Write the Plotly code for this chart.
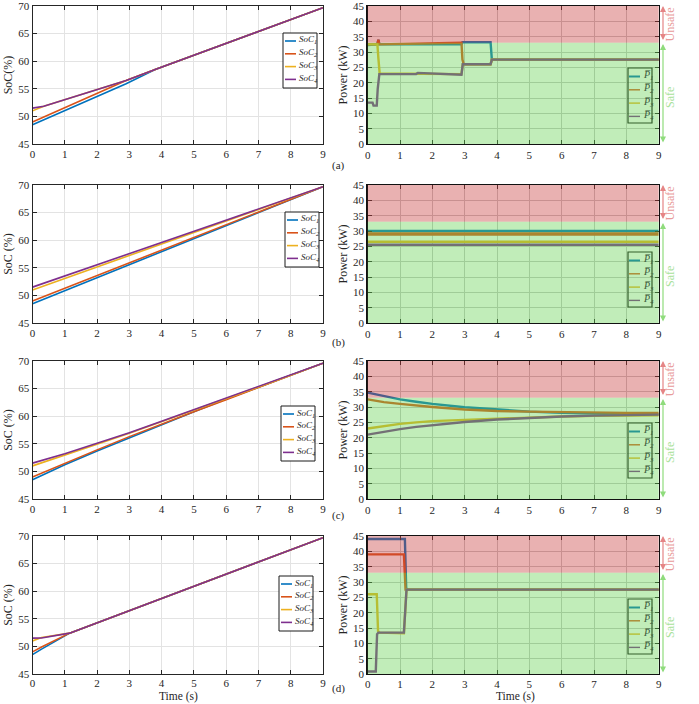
import plotly.graph_objects as go

W, H = 699, 704
FONT = "Liberation Serif, Times New Roman, Times, DejaVu Serif, serif"

# ---------------- data ----------------
time_ticks = [0, 1, 2, 3, 4, 5, 6, 7, 8, 9]
soc_ticks = [45, 50, 55, 60, 65, 70]
power_ticks = [0, 5, 10, 15, 20, 25, 30, 35, 40, 45]
panel_labels = ["(a)", "(b)", "(c)", "(d)"]
soc_names = ["<i>SoC<sub>1</sub></i>", "<i>SoC<sub>2</sub></i>", "<i>SoC<sub>3</sub></i>", "<i>SoC<sub>4</sub></i>"]
p_names = ["<i>P\u0305<sub>1</sub></i>", "<i>P\u0305<sub>2</sub></i>", "<i>P\u0305<sub>3</sub></i>", "<i>P\u0305<sub>4</sub></i>"]
unsafe_limit = 33
power_max = 45

# (a) SoC
soc_a_t = [0, 0.35, 2.9, 3.8, 9]
soc1_a = [48.5, 49.4, 55.9, 58.5, 69.7]
soc2_a = [49.0, 49.9, 56.5, 58.5, 69.7]
soc3_a = [51.0, 51.85, 56.5, 58.5, 69.7]
soc4_a = [51.5, 51.85, 56.5, 58.5, 69.7]
# (a) power
p1_a_t = [0, 0.3, 0.33, 0.36, 2.9, 2.93, 3.8, 3.84, 9]
p1_a = [32.3, 32.5, 34.0, 32.5, 32.5, 33.2, 33.2, 27.5, 27.5]
p2_a_t = [0, 0.3, 0.33, 0.36, 2.9, 2.93, 2.97, 3.8, 3.84, 9]
p2_a = [32.5, 32.5, 34.0, 32.5, 33.0, 27.5, 26.0, 26.0, 27.5, 27.5]
p3_a_t = [0, 0.3, 0.33, 0.37, 2.9, 2.94, 3.8, 3.84, 9]
p3_a = [32.5, 32.5, 28.0, 23.0, 22.8, 26.0, 26.0, 27.5, 27.5]
p4_a_t = [0, 0.15, 0.18, 0.28, 0.31, 0.36, 1.5, 1.55, 2.9, 2.94, 3.8, 3.84, 9]
p4_a = [13.5, 13.5, 12.5, 12.5, 18.0, 22.8, 22.8, 23.2, 22.6, 26.0, 26.0, 27.5, 27.5]

# (b) SoC
soc_b_t = [0, 9]
soc1_b = [48.5, 69.7]
soc2_b = [49.0, 69.7]
soc3_b = [51.0, 69.7]
soc4_b = [51.5, 69.7]
# (b) power
p_b_t = [0, 9]
p1_b = [30.0, 30.0]
p2_b = [29.0, 29.0]
p3_b = [26.5, 26.5]
p4_b = [25.5, 25.5]

# (c) SoC
soc_c_t = [0, 1, 2, 3, 4, 5, 6, 7, 8, 9]
soc1_c = [48.5, 51.2, 53.7, 56.1, 58.5, 60.8, 63.1, 65.3, 67.5, 69.6]
soc2_c = [49.0, 51.5, 53.9, 56.3, 58.6, 60.8, 63.0, 65.2, 67.4, 69.6]
soc3_c = [51.0, 52.9, 54.9, 56.9, 59.0, 61.0, 63.1, 65.3, 67.4, 69.6]
soc4_c = [51.5, 53.2, 55.1, 57.0, 59.1, 61.2, 63.3, 65.4, 67.5, 69.6]
# (c) power
p_c_t = [0, 0.5, 1, 1.5, 2, 3, 4, 5, 6, 7, 8, 9]
p1_c = [34.7, 33.5, 32.5, 31.7, 31.0, 29.9, 29.1, 28.5, 28.1, 27.8, 27.6, 27.5]
p2_c = [32.5, 31.6, 31.0, 30.4, 30.0, 29.2, 28.7, 28.5, 28.3, 28.2, 28.1, 28.1]
p3_c = [23.0, 23.8, 24.5, 25.0, 25.4, 25.8, 26.2, 26.6, 26.9, 27.1, 27.2, 27.3]
p4_c = [21.0, 22.0, 22.8, 23.5, 24.1, 25.1, 25.9, 26.5, 26.9, 27.2, 27.4, 27.5]

# (d) SoC
soc_d_t = [0, 0.28, 1.15, 9]
soc1_d = [48.5, 49.5, 52.4, 69.7]
soc2_d = [49.0, 49.9, 52.4, 69.7]
soc3_d = [51.0, 51.6, 52.4, 69.7]
soc4_d = [51.5, 51.52, 52.4, 69.7]
# (d) power
p1_d_t = [0, 1.15, 1.19, 1.24, 9]
p1_d = [44.0, 44.0, 28.0, 27.5, 27.5]
p2_d_t = [0, 1.12, 1.17, 9]
p2_d = [39.0, 39.0, 27.5, 27.5]
p3_d_t = [0, 0.28, 0.32, 0.36, 1.12, 1.16, 1.2, 9]
p3_d = [26.0, 26.0, 14.0, 13.5, 13.3, 22.0, 27.5, 27.5]
p4_d_t = [0, 0.25, 0.29, 0.33, 1.12, 1.16, 1.2, 9]
p4_d = [0.8, 0.8, 13.0, 13.5, 13.5, 22.0, 27.5, 27.5]

soc_sets = [
    ([soc_a_t] * 4, [soc1_a, soc2_a, soc3_a, soc4_a]),
    ([soc_b_t] * 4, [soc1_b, soc2_b, soc3_b, soc4_b]),
    ([soc_c_t] * 4, [soc1_c, soc2_c, soc3_c, soc4_c]),
    ([soc_d_t] * 4, [soc1_d, soc2_d, soc3_d, soc4_d]),
]
p_sets = [
    ([p1_a_t, p2_a_t, p3_a_t, p4_a_t], [p1_a, p2_a, p3_a, p4_a]),
    ([p_b_t] * 4, [p1_b, p2_b, p3_b, p4_b]),
    ([p_c_t] * 4, [p1_c, p2_c, p3_c, p4_c]),
    ([p1_d_t, p2_d_t, p3_d_t, p4_d_t], [p1_d, p2_d, p3_d, p4_d]),
]

# ---------------- styling ----------------
colors = ["#0072BD", "#D95319", "#EDB120", "#7E2F8E"]
RED_PATCH = "rgba(200,60,60,0.4)"
GREEN_PATCH = "rgba(100,210,80,0.4)"
TXT = "#262626"


def PX(x):
    return x / W


def PY(y):
    return 1 - y / H


LEFT_X = (32.5, 323.0)
RIGHT_X = (367.7, 658.7)
ROWS_Y = [(6, 144), (185, 323), (361, 499), (536, 674)]
LEFT_LEG = [(283, 33), (285, 212), (281, 406), (279, 576)]
RIGHT_LEG = [(628, 68), (628, 252), (628, 423), (628, 599)]
LABEL_Y = [165, 342, 515, 688]
ARROW_X = 663
SIDE_TEXT_X = 670

fig = go.Figure()
layout = dict(
    width=W, height=H, margin=dict(l=0, r=0, t=0, b=0, autoexpand=False),
    paper_bgcolor="white", plot_bgcolor="white", showlegend=False,
    font=dict(family=FONT, size=11, color=TXT),
)
shapes = []
annotations = []
patch_shapes = []


def axis_common(dom, rng, tv, anchor, grid):
    return dict(
        domain=dom, range=rng, tickvals=tv, anchor=anchor, automargin=False,
        ticklabeloverflow="allow",
        ticks="inside", ticklen=4, tickcolor=TXT, tickwidth=1,
        showline=True, linecolor=TXT, linewidth=1, mirror="ticks",
        showgrid=True, gridcolor=grid, gridwidth=1, zeroline=False,
        tickfont=dict(family=FONT, size=11, color=TXT),
        fixedrange=True,
    )


for r in range(4):
    y0, y1 = ROWS_Y[r]
    ydom = [PY(y1), PY(y0)]
    for side in range(2):
        n = 2 * r + side + 1
        xs = "x" if n == 1 else f"x{n}"
        ys = "y" if n == 1 else f"y{n}"
        xk = "xaxis" if n == 1 else f"xaxis{n}"
        yk = "yaxis" if n == 1 else f"yaxis{n}"
        if side == 0:
            xd = [PX(LEFT_X[0]), PX(LEFT_X[1])]
            xa = axis_common(xd, [0, 9], time_ticks, ys, "#e3e3e3")
            ya = axis_common(ydom, [45, 70], soc_ticks, xs, "#e3e3e3")
            ya["title"] = dict(text="SoC(%)" if r == 0 else "SoC (%)",
                               font=dict(family=FONT, size=12, color=TXT), standoff=3)
            ts, vs = soc_sets[r]
            for i in range(4):
                fig.add_trace(go.Scatter(x=ts[i], y=vs[i], mode="lines",
                                         line=dict(color=colors[i], width=1.6),
                                         xaxis=xs, yaxis=ys, hoverinfo="skip"))
            lx, ly = LEFT_LEG[r]
            shapes.append(dict(type="rect", xref="paper", yref="paper",
                               x0=PX(lx), x1=PX(lx + 34), y0=PY(ly + 55), y1=PY(ly),
                               fillcolor="white", line=dict(color="#1a1a1a", width=1), layer="above"))
            for i in range(4):
                ey = ly + 8 + 12.8 * i
                shapes.append(dict(type="line", xref="paper", yref="paper",
                                   x0=PX(lx + 2), x1=PX(lx + 13), y0=PY(ey), y1=PY(ey),
                                   line=dict(color=colors[i], width=1.6), layer="above"))
                annotations.append(dict(xref="paper", yref="paper", x=PX(lx + 13.5), y=PY(ey - 1),
                                        text=soc_names[i], showarrow=False, xanchor="left",
                                        yanchor="middle", font=dict(family=FONT, size=9, color=TXT)))
        else:
            xd = [PX(RIGHT_X[0]), PX(RIGHT_X[1])]
            xa = axis_common(xd, [0, 9], time_ticks, ys, "#c8c8c8")
            ya = axis_common(ydom, [0, power_max], power_ticks, xs, "#c8c8c8")
            xa["linecolor"] = "#111"
            ya["linecolor"] = "#111"
            xa["linewidth"] = 1.4
            ya["linewidth"] = 1.4
            ya["title"] = dict(text="Power (kW)", font=dict(family=FONT, size=12, color=TXT), standoff=3)
            ts, vs = p_sets[r]
            for i in range(4):
                w = 2.4
                if r == 1 and i == 1:
                    w = 3.6
                fig.add_trace(go.Scatter(x=ts[i], y=vs[i], mode="lines",
                                         line=dict(color=colors[i], width=w),
                                         xaxis=xs, yaxis=ys, hoverinfo="skip"))
            lx, ly = RIGHT_LEG[r]
            shapes.append(dict(type="rect", xref="paper", yref="paper",
                               x0=PX(lx), x1=PX(lx + 24), y0=PY(ly + 55), y1=PY(ly),
                               fillcolor="rgba(0,0,0,0)", line=dict(color="#111", width=1.2), layer="above"))
            for i in range(4):
                ey = ly + 8.5 + 13.3 * i
                shapes.append(dict(type="line", xref="paper", yref="paper",
                                   x0=PX(lx + 1), x1=PX(lx + 12), y0=PY(ey), y1=PY(ey),
                                   line=dict(color=colors[i], width=2 if i == 0 else 1.4), layer="above"))
                annotations.append(dict(xref="paper", yref="paper", x=PX(lx + 12.5), y=PY(ey - 1),
                                        text=p_names[i], showarrow=False, xanchor="left",
                                        yanchor="middle", font=dict(family=FONT, size=10, color="#3d5a3a")))
            patch_shapes.append(dict(type="rect", xref=f"{xs} domain", yref=ys, x0=0, x1=1,
                                     y0=unsafe_limit, y1=power_max, fillcolor=RED_PATCH,
                                     line=dict(width=0), layer="above"))
            patch_shapes.append(dict(type="rect", xref=f"{xs} domain", yref=ys, x0=0, x1=1,
                                     y0=0, y1=unsafe_limit, fillcolor=GREEN_PATCH,
                                     line=dict(width=0), layer="above"))
            annotations.append(dict(xref="paper", yref=ys, axref="pixel", ayref=ys,
                                    x=PX(ARROW_X), y=power_max, ax=0, ay=unsafe_limit + 0.4,
                                    text="", showarrow=True, arrowhead=2, arrowside="end+start",
                                    arrowsize=1, arrowwidth=1.2, arrowcolor="#e58585",
                                    standoff=0, startstandoff=0))
            annotations.append(dict(xref="paper", yref=ys, axref="pixel", ayref=ys,
                                    x=PX(ARROW_X), y=unsafe_limit - 0.4, ax=0, ay=0,
                                    text="", showarrow=True, arrowhead=2, arrowside="end+start",
                                    arrowsize=1, arrowwidth=1.2, arrowcolor="#8fdc7c",
                                    standoff=0, startstandoff=0))
            annotations.append(dict(xref="paper", yref=ys, x=PX(SIDE_TEXT_X), y=39, text="Unsafe",
                                    showarrow=False, textangle=-90, xanchor="center", yanchor="middle",
                                    font=dict(family=FONT, size=12, color="#e89a9a")))
            annotations.append(dict(xref="paper", yref=ys, x=PX(SIDE_TEXT_X), y=15, text="Safe",
                                    showarrow=False, textangle=-90, xanchor="center", yanchor="middle",
                                    font=dict(family=FONT, size=12, color="#a9e29b")))
        if r == 3:
            xa["ticklabelstandoff"] = -1
        layout[xk] = xa
        layout[yk] = ya
    annotations.append(dict(xref="paper", yref="paper", x=PX(338), y=PY(LABEL_Y[r]), text=panel_labels[r],
                            showarrow=False, xanchor="center", yanchor="middle",
                            font=dict(family=FONT, size=11, color=TXT)))

for cx in (178, 515):
    annotations.append(dict(xref="paper", yref="paper", x=PX(cx), y=PY(696), text="Time (s)",
                            showarrow=False, xanchor="center", yanchor="middle",
                            font=dict(family=FONT, size=11.5, color=TXT)))

layout["shapes"] = shapes + patch_shapes
layout["annotations"] = annotations
fig.update_layout(**layout)
fig.write_html(
    "out.html",
    config={"displayModeBar": False, "staticPlot": True},
    post_script=(
        "document.documentElement.style.margin='0';"
        "document.documentElement.style.overflow='hidden';"
        "document.body.style.margin='0';document.body.style.padding='0';"
        "document.body.style.overflow='hidden';document.body.style.lineHeight='0';"
        "document.querySelectorAll('.svg-container').forEach(function(e){e.style.display='block';});"
    ),
)
